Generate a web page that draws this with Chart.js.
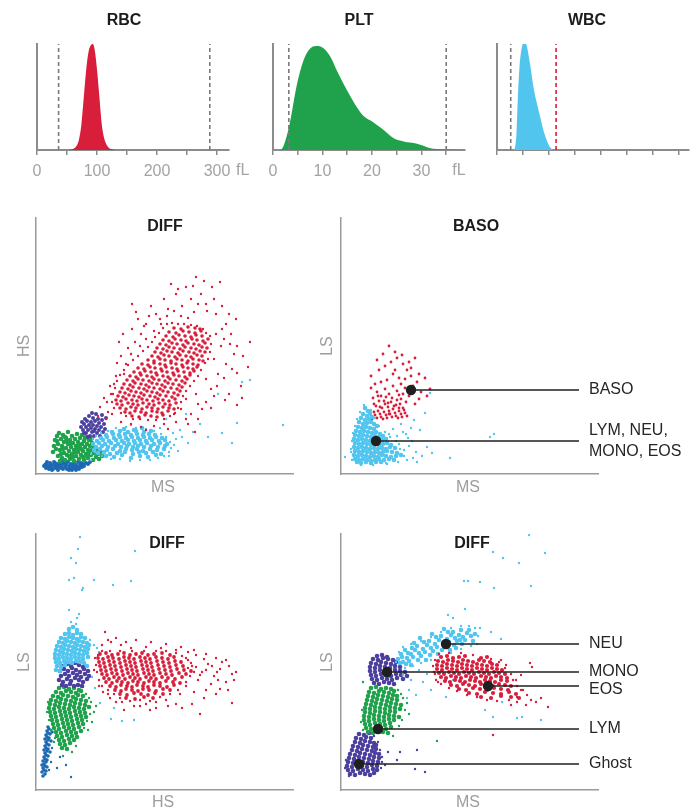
<!DOCTYPE html>
<html>
<head>
<meta charset="utf-8">
<script src="https://cdn.jsdelivr.net/npm/chart.js@4.4.1/dist/chart.umd.min.js"></script>
<style>
  html, body { margin: 0; padding: 0; background: #fff; }
  #wrap { position: relative; width: 700px; height: 809px; }
  #wrap canvas { position: absolute; left: 0; top: 0; }
</style>
</head>
<body>
<div id="wrap"></div>
<script>
// Histograms: size (fL or channel) and relative count
const rbcSize  = [50, 60, 66, 70, 74, 78, 82, 86, 90, 93, 96, 100, 104, 108, 112, 116, 120, 126, 132];
const rbcCount = [0, 0.01, 0.04, 0.1, 0.24, 0.5, 0.76, 0.93, 0.99, 1.0, 0.95, 0.76, 0.5, 0.24, 0.11, 0.05, 0.02, 0.005, 0];
const rbcTicks = [0, 50, 100, 150, 200, 250, 300];
const rbcTickLabels = ['0', '', '100', '', '200', '', '300'];
const rbcGates = [36, 288];

const pltSize  = [0, 1.5, 3.2, 4.8, 5.9, 7.2, 8.7, 10.2, 11.6, 12.9, 14.3, 15.6, 17.0, 18.3, 20.3, 22.3, 24.4, 26.4, 29.1, 30.4, 31.8, 34.5, 38.8];
const pltCount = [0, 0, 0.21, 0.61, 0.81, 0.94, 0.98, 0.96, 0.88, 0.75, 0.62, 0.51, 0.40, 0.32, 0.26, 0.19, 0.11, 0.08, 0.06, 0.04, 0.016, 0.006, 0];
const pltTicks = [0, 5, 10, 15, 20, 25, 30, 35];
const pltTickLabels = ['0', '', '10', '', '20', '', '30', ''];
const pltGates = [3.2, 35];

const wbcSize  = [0, 0.64, 0.75, 0.80, 0.87, 0.96, 1.07, 1.16, 1.29, 1.41, 1.54, 1.67, 1.80, 1.93, 2.06, 2.19, 7.41];
const wbcCount = [0, 0, 0.15, 0.47, 0.79, 0.97, 1.03, 0.97, 0.79, 0.59, 0.44, 0.31, 0.18, 0.086, 0.023, 0, 0];
const wbcTicks = [0, 1, 2, 3, 4, 5, 6, 7];
const wbcGates = [0.53, 2.28];

// Scattergram 1: DIFF (MS vs HS), flat x,y channel pairs; "core" = dense body, "spread" = loose events
const d1Ghost = [8,8, 10,6, 10,10, 12,8, 13,5, 14,11, 15,7, 16,9, 17,5, 18,12, 19,8, 20,6, 21,10, 22,4, 23,8, 24,12, 25,6, 26,9, 27,5, 28,11, 29,7, 30,9, 31,5, 32,12, 33,8, 34,6, 35,10, 36,4, 37,8, 38,11, 39,6, 40,9, 41,7, 42,12, 43,5, 44,9, 45,11, 46,7, 47,10, 48,8, 50,11, 52,10, 54,12, 11,12, 19,11, 27,13, 33,4, 40,4, 24,9, 16,4, 9,9, 14,8, 22,7, 30,12, 37,6, 44,7];
const d1Lym = [18,28, 17,22, 19,34, 20,25, 21,38, 22,18, 22,30, 23,41, 24,24, 25,35, 26,16, 26,28, 27,39, 28,21, 28,32, 29,14, 30,26, 30,36, 31,19, 32,30, 32,42, 33,23, 34,15, 34,34, 35,27, 36,38, 36,20, 37,31, 38,13, 38,24, 39,35, 40,28, 40,18, 41,40, 42,22, 42,32, 43,15, 44,26, 44,36, 45,19, 46,30, 46,39, 47,23, 48,14, 48,33, 49,27, 50,20, 50,37, 51,30, 52,16, 52,24, 53,34, 54,28, 55,19, 56,24, 56,31, 57,14, 58,21, 58,27, 60,17, 60,24, 62,20, 63,15, 64,22, 66,18, 24,13, 31,33, 37,17, 43,29, 49,36, 55,35, 21,33, 25,20, 33,18, 39,22, 45,25, 51,18, 27,25, 35,31, 41,26, 47,17, 53,21, 29,37];
const d1Mono = [45,47, 46,52, 47,44, 48,50, 49,55, 50,41, 50,47, 51,53, 52,44, 53,58, 53,49, 54,38, 55,46, 55,52, 56,42, 57,56, 57,49, 58,38, 59,45, 59,53, 60,60, 61,41, 61,48, 62,55, 63,44, 63,51, 64,38, 65,47, 66,54, 67,42, 68,50, 69,45, 70,56, 66,59, 56,61, 52,37, 48,41, 58,43];
const d1NeuCore = [70,18, 78,17, 86,19, 95,16, 104,18, 112,17, 120,19, 62,21, 68,22, 74,20, 81,21, 89,22, 97,20, 103,22, 110,21, 117,22, 125,20, 58,24, 64,25, 71,24, 77,25, 84,23, 90,25, 96,24, 101,25, 107,23, 114,25, 121,24, 128,25, 60,27, 66,28, 72,27, 79,28, 85,27, 91,28, 97,27, 102,28, 108,27, 115,28, 122,27, 129,28, 57,30, 63,31, 69,30, 75,31, 82,30, 88,31, 93,30, 99,31, 105,30, 111,31, 118,30, 124,31, 131,30, 61,33, 67,34, 73,33, 80,34, 86,33, 92,34, 98,33, 104,34, 110,33, 116,34, 123,33, 129,34, 65,36, 71,37, 78,36, 84,37, 90,36, 96,37, 102,36, 108,37, 114,36, 120,37, 126,36, 70,39, 77,40, 83,39, 89,40, 95,39, 101,40, 107,39, 113,40, 119,39, 76,42, 84,43, 92,42, 100,43, 108,42, 115,43, 88,45, 98,44, 106,46];
const d1NeuSpread = [137,41, 144,44, 157,42, 164,50, 172,37, 186,41, 196,31, 201,51, 214,94, 182,80, 247,49, 206,92, 130,55, 150,60, 140,35, 133,18, 55,14,
  55,20, 57,35, 60,38, 65,41, 72,43, 80,46, 90,47, 100,46, 110,45, 118,43, 125,40, 130,37, 134,32, 135,26, 133,22, 128,18, 122,16, 114,14, 104,14, 94,13, 84,15, 75,15, 66,18, 59,22, 138,29, 142,23, 146,37, 152,31, 124,46, 95,49];
const d1EosCore = [96,58, 103,57, 109,59, 115,58, 121,57, 127,59, 89,62, 94,61, 99,63, 105,62, 110,61, 116,63, 121,62, 126,61, 132,63, 84,66, 90,65, 95,67, 100,66, 106,65, 111,67, 116,66, 122,65, 127,67, 133,66, 138,65, 81,70, 86,69, 92,71, 97,70, 102,69, 107,71, 113,70, 118,69, 123,71, 129,70, 134,69, 140,71, 80,74, 85,73, 90,75, 96,74, 101,73, 106,75, 111,74, 117,73, 122,75, 127,74, 133,73, 139,75, 82,78, 87,77, 93,79, 98,78, 103,77, 108,79, 114,78, 119,77, 124,79, 130,78, 136,77, 142,79, 84,82, 89,81, 95,83, 100,82, 105,81, 111,83, 116,82, 121,81, 127,83, 132,82, 138,81, 144,83, 86,86, 92,85, 97,87, 103,86, 108,85, 113,87, 118,86, 124,85, 129,87, 135,86, 141,85, 146,87, 88,90, 94,89, 99,91, 105,90, 110,89, 116,91, 121,90, 126,89, 132,91, 137,90, 143,89, 149,91, 91,94, 97,93, 102,95, 107,94, 113,93, 118,95, 123,94, 129,93, 134,95, 140,94, 146,93, 151,95, 94,98, 100,97, 105,99, 111,98, 116,97, 121,99, 127,98, 132,97, 138,99, 143,98, 149,97, 154,99, 98,102, 104,101, 109,103, 115,102, 120,101, 126,103, 131,102, 137,101, 142,103, 148,102, 154,101, 158,103, 102,106, 108,105, 114,107, 119,106, 125,105, 130,107, 136,106, 141,105, 147,107, 152,106, 157,105, 161,107, 106,110, 112,109, 118,111, 124,110, 129,109, 135,111, 140,110, 146,109, 151,111, 157,110, 162,109, 112,114, 118,113, 124,115, 129,114, 135,113, 141,115, 146,114, 152,113, 157,115, 163,114, 167,113, 116,118, 122,117, 128,119, 133,118, 139,117, 144,119, 150,118, 155,117, 161,119, 166,118, 119,122, 125,121, 131,123, 136,122, 142,121, 147,123, 153,122, 158,121, 164,123, 169,122, 121,126, 127,125, 133,127, 138,126, 144,125, 149,127, 155,126, 160,125, 166,127, 171,126, 124,130, 130,129, 136,131, 141,130, 147,129, 152,131, 158,130, 163,129, 169,131, 127,134, 133,133, 139,135, 145,134, 150,133, 156,135, 161,134, 167,133, 172,135, 130,138, 137,137, 143,139, 149,138, 155,137, 160,139, 166,138, 133,142, 140,141, 147,143, 153,142, 159,141, 165,143, 138,146, 145,145, 152,147, 159,146, 164,145];
const d1EosSpread = [160,197, 184,192, 150,187, 176,187, 96,170, 214,132, 212,107, 201,101, 83,132, 81,111, 64,67, 71,72, 201,69, 189,74, 166,65, 159,42, 120,160, 132,165, 145,158, 158,162, 170,170, 180,160, 190,150, 195,140, 185,128, 178,115, 190,110, 182,100, 170,95, 175,85, 160,80, 150,75, 145,65, 155,60, 110,150, 105,140, 95,120, 90,110, 88,100, 78,90, 75,80, 72,62, 140,180, 128,175, 115,168, 155,175, 165,180, 198,120, 205,88, 188,135, 150,55, 138,60, 102,155, 125,150, 135,190,
  78,66, 76,72, 77,80, 79,86, 81,93, 84,99, 88,104, 92,109, 97,114, 102,118, 107,123, 112,127, 116,132, 119,137, 123,141, 127,146, 131,150, 136,151, 142,150, 148,150, 155,149, 161,148, 167,145, 170,141, 174,138, 175,130, 174,122, 172,115, 169,111, 165,104, 162,98, 158,93, 154,88, 150,83, 147,78, 145,72, 142,66, 139,61, 134,58, 128,55, 120,54, 112,54, 104,55, 97,55, 90,58, 85,61,
  85,118, 92,126, 99,132, 104,128, 96,145, 108,148, 113,158, 118,143, 87,140, 100,162, 110,135, 124,155, 131,158, 138,163, 146,168, 152,156, 162,170, 171,163, 178,175, 186,168, 193,160, 200,155, 142,185, 157,188, 168,193, 180,140, 186,145, 194,130, 201,128, 207,118, 196,105, 188,96, 181,88, 193,80, 206,76, 178,78, 170,72, 162,70, 175,66, 95,50, 105,47, 118,48, 128,50, 140,52, 152,50, 162,55, 85,52, 110,44, 132,45, 62,58, 68,76, 74,88, 80,98, 70,55, 76,60];

// Scattergram 2: BASO (MS vs LS)
const bNeuCore = [24,66, 27,63, 22,60, 26,58, 29,61, 20,56, 24,54, 28,55, 31,57, 18,52, 22,50, 26,51, 30,52, 33,50, 17,47, 21,46, 25,47, 29,46, 33,45, 36,48, 15,43, 19,42, 23,43, 27,42, 31,41, 35,42, 39,40, 14,39, 18,38, 22,39, 26,38, 30,37, 34,38, 38,37, 42,38, 13,35, 17,34, 21,35, 25,34, 29,33, 33,34, 37,33, 41,34, 45,35, 14,31, 18,30, 22,31, 26,30, 30,29, 34,30, 38,29, 42,30, 46,31, 50,29, 13,27, 17,26, 21,27, 25,26, 29,25, 33,26, 37,25, 41,26, 45,25, 49,27, 54,26, 14,23, 18,22, 22,23, 26,22, 30,21, 34,22, 38,21, 42,22, 46,23, 51,22, 56,21, 13,19, 17,18, 21,19, 25,18, 29,17, 33,18, 37,17, 41,19, 45,18, 50,17, 55,18, 60,19, 14,15, 18,14, 22,15, 26,14, 30,13, 34,14, 38,15, 43,14, 48,15, 53,14, 16,12, 20,11, 25,12, 30,11, 35,12, 40,12];
const bNeuSpread = [58,30, 63,24, 67,36, 72,16, 62,42, 70,46, 56,38, 66,14, 75,22, 4,17, 109,16, 153,40, 149,37, 86,27, 91,21, 79,44, 73,54, 89,81, 84,61, 10,22, 60,50, 52,45, 48,40,
  11,14, 10,25, 11,33, 12,41, 14,48, 16,55, 19,62, 23,69, 30,64, 34,56, 38,48, 44,42, 49,37, 55,33, 59,25, 63,18, 57,12, 46,10, 32,9, 20,9, 68,28, 71,33, 65,40, 76,12, 81,18, 45,11];
const bBaso = [30,58, 33,62, 36,56, 39,60, 42,55, 45,59, 48,63, 51,57, 54,61, 57,56, 60,60, 63,64, 41,66, 44,70, 47,67, 50,72, 53,68, 56,74, 59,70, 62,66, 35,68, 38,73, 65,72, 68,78, 32,76, 36,82, 40,78, 44,85, 48,80, 52,88, 56,83, 60,90, 64,86, 72,88, 76,92, 80,82, 86,78, 84,96, 78,100, 70,98, 66,104, 58,96, 52,100, 46,94, 40,92, 34,90, 30,98, 38,104, 44,108, 50,112, 56,116, 62,110, 68,112, 74,116, 36,114, 42,120, 48,128, 54,122, 61,119, 70,106, 89,85, 78,75, 74,70, 58,79, 45,77, 30,86, 64,95, 54,104, 48,60, 58,66, 66,58,
  31,55, 34,59, 37,63, 40,57, 43,62, 46,56, 49,60, 52,65, 55,58, 58,63, 61,57, 64,61, 43,73, 39,67, 47,71, 51,76, 55,69, 60,75, 37,78, 33,70, 62,80];
const basoMarkLabels = ['BASO', 'LYM, NEU,\nMONO, EOS'];
const basoMarkX = [70, 35];
const basoMarkY = [84, 33];

// Scattergram 3: DIFF (HS vs LS)
const d3GhostCore = [7,14, 9,16, 6,18, 8,20, 10,19, 7,22, 9,24, 11,23, 8,26, 10,28, 7,29, 9,31, 11,30, 8,33, 10,35, 12,34, 9,37, 11,39, 8,40, 10,42, 12,41, 9,44, 11,46, 13,45, 10,48, 12,50, 9,51, 11,53, 13,52, 10,55, 12,57, 14,56, 11,59, 13,61, 12,63, 15,49, 14,38, 6,25, 16,58];
const d3GhostSpread = [21,22, 24,33, 30,25, 35,13, 15,28, 13,20, 16,42];
const d3LymCore = [23,102, 28,103, 33,101, 38,102, 43,100, 20,98, 25,97, 30,99, 35,98, 40,97, 45,99, 17,94, 22,93, 27,95, 32,94, 37,93, 42,95, 47,94, 15,90, 20,89, 25,91, 30,90, 35,89, 40,91, 45,90, 50,89, 14,86, 19,85, 24,87, 29,86, 34,85, 39,87, 44,86, 49,85, 13,82, 18,81, 23,83, 28,82, 33,81, 38,83, 43,82, 48,81, 53,83, 14,78, 19,77, 24,79, 29,78, 34,77, 39,79, 44,78, 49,77, 15,74, 20,73, 25,75, 30,74, 35,73, 40,75, 45,74, 50,73, 16,70, 21,69, 26,71, 31,70, 36,69, 41,71, 46,70, 17,66, 22,65, 27,67, 32,66, 37,65, 42,67, 47,66, 18,62, 23,61, 28,63, 33,62, 38,61, 43,63, 20,58, 25,57, 30,59, 35,58, 40,57, 45,59, 21,54, 26,53, 31,55, 36,54, 41,53, 23,50, 28,49, 33,51, 38,50, 24,46, 29,45, 34,47, 26,42, 31,41];
const d3LymSpread = [55,88, 58,78, 60,84, 56,68, 52,60, 18,48, 36,38, 40,44, 27,34, 12,88, 11,78, 13,70, 15,60, 19,52, 48,62, 51,69, 54,76, 53,92, 50,96, 47,103];
const d3Mono = [23,110, 27,108, 31,111, 35,109, 39,112, 43,110, 47,108, 51,111, 25,114, 29,116, 33,114, 37,117, 41,115, 45,113, 49,116, 53,114, 24,119, 28,121, 32,119, 36,122, 40,120, 44,118, 48,121, 52,119, 27,124, 31,126, 35,124, 39,127, 43,125, 47,123, 30,104, 34,106, 38,104, 42,105, 46,104, 26,105];
const d3NeuCore = [33,161, 37,163, 41,160, 29,156, 33,157, 37,155, 41,157, 45,156, 25,152, 29,151, 33,153, 37,152, 41,151, 45,153, 49,152, 23,148, 27,147, 31,149, 35,148, 39,147, 43,149, 47,148, 51,147, 21,144, 25,143, 29,145, 33,144, 37,143, 41,145, 45,144, 49,143, 53,145, 20,140, 24,139, 28,141, 32,140, 36,139, 40,141, 44,140, 48,139, 52,141, 19,136, 23,135, 27,137, 31,136, 35,135, 39,137, 43,136, 47,135, 51,137, 19,132, 23,131, 27,133, 31,132, 35,131, 39,133, 43,132, 47,131, 52,133, 20,128, 24,127, 28,129, 32,128, 36,127, 40,129, 44,128, 48,127, 21,124, 25,123, 29,125, 51,124, 20,120, 24,119];
const d3NeuSpread = [52,257, 44,253, 42,241, 35,232, 40,227, 99,239, 33,210, 38,212, 58,210, 77,205, 95,209, 47,202, 46,200, 33,180, 43,176, 41,172, 64,87, 78,82, 75,71, 86,69, 98,70, 59,102, 56,113, 61,142, 54,150, 58,145, 63,138, 40,166, 35,168];
const d3EosCore = [64,136, 70,137, 76,135, 82,136, 88,137, 94,135, 100,136, 106,137, 112,135, 118,136, 126,137, 134,135, 62,132, 67,131, 72,133, 77,132, 83,131, 88,133, 93,132, 98,131, 104,133, 109,132, 114,131, 120,133, 126,132, 132,131, 138,133, 63,128, 68,127, 73,129, 78,128, 84,127, 89,129, 94,128, 99,127, 105,129, 110,128, 115,127, 121,129, 127,128, 133,127, 139,129, 145,128, 64,124, 69,123, 74,125, 79,124, 85,123, 90,125, 95,124, 100,123, 106,125, 111,124, 116,123, 122,125, 128,124, 134,123, 140,125, 147,124, 65,120, 70,119, 75,121, 80,120, 86,119, 91,121, 96,120, 101,119, 107,121, 112,120, 117,119, 123,121, 129,120, 135,119, 141,121, 148,120, 155,119, 66,116, 71,115, 76,117, 81,116, 87,115, 92,117, 97,116, 102,115, 108,117, 113,116, 118,115, 124,117, 130,116, 136,115, 143,117, 150,116, 68,112, 73,111, 78,113, 83,112, 89,111, 94,113, 99,112, 104,111, 110,113, 115,112, 120,111, 126,113, 132,112, 139,111, 146,113, 70,108, 76,107, 81,109, 86,108, 92,107, 97,109, 102,108, 108,107, 113,109, 118,108, 124,107, 130,109, 137,108, 144,107, 74,104, 80,103, 85,105, 91,104, 96,103, 101,105, 107,104, 112,103, 118,105, 124,104, 131,103, 138,105, 79,100, 85,99, 90,101, 96,100, 102,99, 107,101, 113,100, 120,99, 127,101, 134,100, 84,96, 91,95, 98,97, 105,96, 112,95, 119,97, 127,96, 90,92, 99,91, 108,93, 117,92];
const d3EosSpread = [160,123, 166,118, 172,126, 178,114, 184,121, 190,108, 196,116, 198,110, 186,128, 175,106, 162,110, 155,127, 168,131, 181,118, 193,124, 150,104, 158,98, 144,96, 170,100, 184,101, 196,87, 164,76, 69,158, 75,148, 85,145, 95,142, 110,143, 125,142, 140,140, 152,138, 120,88, 130,90, 140,86, 104,84, 114,80, 86,88, 150,132, 160,135, 72,96,
  60,125, 61,118, 63,110, 66,104, 72,100, 78,96, 84,92, 94,89, 104,90, 114,89, 124,93, 134,96, 142,100, 150,108, 154,114, 156,124, 152,130, 146,134, 140,137, 130,139, 120,139, 108,139, 96,139, 84,139, 74,139, 66,139, 62,135,
  66,145, 72,150, 80,152, 90,148, 100,150, 115,148, 130,146, 145,143, 158,140, 170,136, 180,132, 190,130, 200,118, 192,100, 180,96, 168,92, 156,86, 146,82, 132,84, 120,82, 110,86, 98,84, 88,80, 80,88, 74,92, 67,98, 63,104, 58,120, 59,132, 164,115, 170,120, 176,124, 182,110, 158,118, 152,122];

// Scattergram 4: DIFF (MS vs LS)
const d4GhostCore = [18,56, 23,55, 28,57, 15,52, 20,51, 25,53, 30,52, 14,48, 19,47, 24,49, 29,48, 33,47, 12,44, 17,43, 22,45, 27,44, 32,43, 35,45, 11,40, 16,39, 21,41, 26,40, 31,39, 35,41, 9,36, 14,35, 19,37, 24,36, 29,35, 34,37, 38,36, 8,32, 13,31, 18,33, 23,32, 28,31, 33,33, 38,32, 7,28, 12,27, 17,29, 22,28, 27,27, 32,29, 37,28, 6,24, 11,23, 16,25, 21,24, 26,23, 31,25, 36,24, 7,20, 12,19, 17,21, 22,20, 27,19, 32,21, 36,20, 9,16, 14,15, 19,17, 24,16, 29,15, 33,17];
const d4GhostSpread = [41,33, 56,30, 59,38, 76,40, 74,21, 84,18, 47,38, 44,25, 5,30, 4,22, 8,14, 40,22, 41,28, 39,40, 37,48, 33,54];
const d4LymCore = [30,102, 35,103, 40,101, 45,102, 50,101, 28,98, 33,97, 38,99, 43,98, 48,97, 53,99, 27,94, 32,93, 37,95, 42,94, 47,93, 52,95, 56,94, 26,90, 31,89, 36,91, 41,90, 46,89, 51,91, 56,90, 25,86, 30,85, 35,87, 40,86, 45,85, 50,87, 55,86, 60,85, 24,82, 29,81, 34,83, 39,82, 44,81, 49,83, 54,82, 59,81, 24,78, 29,77, 34,79, 39,78, 44,77, 49,79, 54,78, 23,74, 28,73, 33,75, 38,74, 43,73, 48,75, 53,74, 58,73, 23,70, 28,69, 33,71, 38,70, 43,69, 48,71, 53,70, 24,66, 29,65, 34,67, 39,66, 44,65, 49,67, 25,62, 30,61, 35,63, 40,62, 45,61, 50,63, 27,58, 32,57, 37,59, 42,58, 47,57];
const d4LymSpread = [96,49, 66,87, 61,70, 22,108, 64,80, 62,92, 58,64, 52,54, 68,76, 21,80, 20,68, 22,60, 57,100, 60,96];
const d4Mono = [36,134, 41,135, 46,133, 32,131, 37,130, 42,132, 47,131, 52,130, 30,127, 35,126, 40,128, 45,127, 50,126, 55,128, 29,123, 34,122, 39,124, 44,123, 49,122, 54,124, 59,123, 29,119, 34,118, 39,120, 44,119, 49,118, 54,120, 59,119, 64,118, 30,115, 35,114, 40,116, 45,115, 50,114, 55,116, 60,115, 66,114, 31,111, 36,110, 41,112, 46,111, 51,110, 56,112, 62,111, 33,107, 38,106, 43,108, 48,107, 53,106];
const d4NeuCore = [57,131, 62,128, 60,136, 66,132, 64,140, 70,136, 68,129, 74,140, 72,133, 78,137, 76,144, 82,141, 80,134, 86,145, 84,138, 90,142, 88,149, 94,146, 92,139, 98,150, 96,143, 102,147, 100,154, 106,151, 104,144, 110,155, 108,148, 114,152, 112,158, 118,155, 116,149, 122,153, 120,160, 126,157, 124,150, 130,154, 128,160, 132,149, 134,156, 65,126, 71,142, 77,130, 83,148, 89,135, 95,153, 101,140, 107,158, 113,145, 119,150, 73,147, 79,152, 85,130, 91,156, 97,136, 103,161, 109,140, 115,142, 121,146, 61,133, 67,137, 59,127, 70,125];
const d4NeuSpread = [62,115, 70,110, 68,100, 75,95, 82,108, 90,100, 98,118, 105,93, 112,110, 66,92, 78,120, 86,116, 188,255, 162,232, 152,238, 204,237, 178,227, 123,209, 127,209, 139,208, 153,202, 190,204, 124,181, 107,175, 112,172, 139,162, 160,151, 150,158, 161,88, 176,72, 200,70, 144,80, 152,73, 181,73,
  55,128, 58,138, 62,143, 70,146, 80,149, 90,153, 100,158, 110,162, 120,164, 128,164, 134,162, 137,154, 136,146, 130,144, 120,141, 110,137, 100,133, 90,130, 80,127, 72,124, 64,122];
const d4EosCore = [100,133, 106,134, 112,132, 118,133, 124,134, 140,132, 146,133, 97,129, 102,128, 107,130, 112,129, 117,128, 122,130, 127,129, 132,128, 138,130, 143,129, 149,128, 96,125, 101,124, 106,126, 111,125, 116,124, 121,126, 126,125, 131,124, 136,126, 141,125, 146,124, 151,126, 156,125, 96,121, 101,120, 106,122, 111,121, 116,120, 121,122, 126,121, 131,120, 136,122, 141,121, 146,120, 151,122, 156,121, 161,120, 98,117, 103,116, 108,118, 113,117, 118,116, 123,118, 128,117, 133,116, 138,118, 143,117, 148,116, 153,118, 158,117, 164,116, 100,113, 105,112, 110,114, 115,113, 120,112, 125,114, 130,113, 135,112, 140,114, 145,113, 150,112, 155,114, 160,113, 166,112, 104,109, 109,108, 114,110, 119,109, 124,108, 129,110, 134,109, 139,108, 144,110, 149,109, 154,108, 160,110, 166,109, 110,105, 116,104, 122,106, 128,105, 134,104, 140,106, 146,105, 152,104, 158,106, 164,105, 170,104, 118,101, 125,100, 132,102, 139,101, 146,100, 153,102, 160,101, 167,100, 128,97, 136,96, 144,98, 152,97, 160,96, 168,98, 175,96, 140,93, 150,92, 160,94, 170,93, 178,92];
const d4EosSpread = [182,100, 186,95, 190,90, 195,88, 200,92, 207,83, 185,85, 176,88, 170,85, 189,127, 191,123, 175,110, 180,115, 152,55, 94,116, 97,108, 92,124, 165,125, 160,130,
  94,130, 98,136, 108,137, 120,137, 132,135, 150,131, 158,128, 164,122, 170,116, 172,110, 176,104, 180,100, 176,93, 168,90, 156,89, 146,90, 136,93, 126,95, 116,99, 108,102, 100,106, 95,110, 93,118];
const diffMarkLabels = ['NEU', 'MONO', 'EOS', 'LYM', 'Ghost'];
const diffMarkX = [105, 46, 147, 37, 18];
const diffMarkY = [146, 118, 104, 61, 26];
const calloutEnd = 238;

// ---- styling ----
const RED = '#d81e3b', GREEN = '#1fa24b', PURPLE = '#4b3f9f', CYAN = '#52c5ef', BLUE = '#1d68b2';
const AXIS = '#8c8c8c', LABEL = '#a3a3a3';
const PAGE_W = 700, PAGE_H = 809;
const HIST_LABEL_BAND = 40;
const wrap = document.getElementById('wrap');

function newCanvas() {
    const c = document.createElement('canvas');
    c.width = PAGE_W; c.height = PAGE_H;
    c.style.width = PAGE_W + 'px'; c.style.height = PAGE_H + 'px';
    wrap.appendChild(c);
    return c;
}

function padFor(box, bottomBand) {
    return { left: box.left, top: box.top, right: PAGE_W - box.right, bottom: PAGE_H - box.bottom - (bottomBand || 0) };
}

// fixed axis sizes so the chart area lands exactly on the box
function fixedSize(size) {
    return function (scale) {
        if (scale.isHorizontal()) scale.height = size; else scale.width = size;
    };
}

function pairs(arr) {
    const out = [];
    for (let i = 0; i < arr.length; i += 2) out.push({ x: arr[i], y: arr[i + 1] });
    return out;
}

function zip(xs, ys) {
    return xs.map((x, i) => ({ x: x, y: ys[i] }));
}

// free text in page coordinates
function textLayer(items) {
    return {
        id: 'textLayer',
        afterDraw(chart) {
            const ctx = chart.ctx;
            items.forEach(it => {
                ctx.save();
                ctx.font = it.font;
                ctx.fillStyle = it.color;
                ctx.textAlign = it.align || 'center';
                ctx.textBaseline = 'middle';
                ctx.translate(it.x, it.y);
                if (it.rotate) ctx.rotate(it.rotate);
                ctx.fillText(it.text, 0, 0);
                ctx.restore();
            });
        }
    };
}

// callout labels at the end of the marker lines
function calloutLayer(labels, ys, dys) {
    return {
        id: 'callouts',
        afterDraw(chart) {
            const ctx = chart.ctx;
            const x = chart.scales.x.getPixelForValue(calloutEnd) + 10;
            ctx.save();
            ctx.font = '16px "Liberation Sans", Arial, sans-serif';
            ctx.fillStyle = '#262626';
            ctx.textAlign = 'left';
            ctx.textBaseline = 'middle';
            labels.forEach((lab, i) => {
                const y = chart.scales.y.getPixelForValue(ys[i]) + (dys[i] || 0);
                const lines = lab.split('\n');
                lines.forEach((t, j) => ctx.fillText(t, x, y + (j - (lines.length - 1) / 2) * 21.5));
            });
            ctx.restore();
        }
    };
}

const TITLE_FONT = 'bold 16px "Liberation Sans", Arial, sans-serif';
const AXIS_FONT = '16px "Liberation Sans", Arial, sans-serif';

function histogram(box, sizes, counts, color, xMax, ticks, tickLabels, gates, gateColors, extraText) {
    const datasets = gates.map((g, i) => ({
        data: [{ x: g, y: 0 }, { x: g, y: 1 }],
        borderColor: gateColors[i],
        borderWidth: 1.6,
        borderDash: [4, 3],
        pointRadius: 0,
        fill: false,
        order: 0
    }));
    datasets.push({
        data: zip(sizes, counts),
        backgroundColor: color,
        borderWidth: 0,
        pointRadius: 0,
        fill: 'origin',
        cubicInterpolationMode: 'monotone',
        clip: false,
        order: 1
    });
    new Chart(newCanvas(), {
        type: 'line',
        data: { datasets: datasets },
        options: {
            responsive: false,
            animation: false,
            events: [],
            layout: { padding: padFor(box, HIST_LABEL_BAND) },
            plugins: { legend: { display: false }, tooltip: { enabled: false } },
            scales: {
                x: {
                    type: 'linear', min: 0, max: xMax,
                    afterFit: fixedSize(HIST_LABEL_BAND),
                    afterBuildTicks: s => { s.ticks = ticks.map(v => ({ value: v })); },
                    grid: { display: true, drawOnChartArea: false, drawTicks: true, tickLength: 5, color: AXIS, lineWidth: 1.5 },
                    border: { color: AXIS, width: 2 },
                    ticks: {
                        display: true, autoSkip: false, maxRotation: 0, padding: 7,
                        color: LABEL, font: { family: '"Liberation Sans", Arial, sans-serif', size: 16 },
                        callback: (v, i) => tickLabels ? tickLabels[i] : ''
                    }
                },
                y: {
                    type: 'linear', min: 0, max: 1,
                    afterFit: fixedSize(0),
                    grid: { display: false, drawTicks: false },
                    border: { color: AXIS, width: 2 },
                    ticks: { display: false }
                }
            }
        },
        plugins: [textLayer(extraText)]
    });
}

function scattergram(box, clusters, marks, texts) {
    const datasets = clusters.map(c => ({
        type: 'scatter',
        data: pairs(c.pts),
        backgroundColor: c.color,
        pointRadius: c.r,
        pointBorderWidth: 0,
        borderWidth: 0,
        order: 2
    }));
    if (marks) {
        marks.xs.forEach((mx, i) => datasets.push({
            type: 'line',
            data: [{ x: mx, y: marks.ys[i] }, { x: calloutEnd, y: marks.ys[i] }],
            borderColor: '#1f1f1f',
            borderWidth: 1.6,
            pointRadius: [5.2, 0],
            pointBackgroundColor: '#1f1f1f',
            pointBorderWidth: 0,
            fill: false,
            order: 0
        }));
    }
    const plugins = [textLayer(texts)];
    if (marks) plugins.push(calloutLayer(marks.labels, marks.ys, marks.dys));
    new Chart(newCanvas(), {
        type: 'scatter',
        data: { datasets: datasets },
        options: {
            responsive: false,
            animation: false,
            events: [],
            layout: { padding: padFor(box, 0) },
            plugins: { legend: { display: false }, tooltip: { enabled: false } },
            scales: {
                x: {
                    type: 'linear', min: 0, max: 257,
                    afterFit: fixedSize(0),
                    grid: { display: false, drawTicks: false },
                    border: { color: '#9a9a9a', width: 1.5 },
                    ticks: { display: false }
                },
                y: {
                    type: 'linear', min: 0, max: 256,
                    afterFit: fixedSize(0),
                    grid: { display: false, drawTicks: false },
                    border: { color: '#9a9a9a', width: 1.5 },
                    ticks: { display: false }
                }
            }
        },
        plugins: plugins
    });
}

function title(text, x, y) {
    return { text: text, x: x, y: y, font: TITLE_FONT, color: '#1c1c1c' };
}
function axisText(text, x, y, vertical) {
    return { text: text, x: x, y: y, font: AXIS_FONT, color: '#9d9d9d', rotate: vertical ? -Math.PI / 2 : 0 };
}

const CORE = 2.3, FRINGE = 1.2;

// ---- top row: size histograms ----
histogram({ left: 37, top: 44, right: 229, bottom: 150 }, rbcSize, rbcCount, RED, 320,
    rbcTicks, rbcTickLabels, rbcGates, ['#7a7a7a', '#7a7a7a'],
    [title('RBC', 124, 21), { text: 'fL', x: 236, y: 171, font: AXIS_FONT, color: LABEL, align: 'left' }]);

histogram({ left: 273, top: 44, right: 465, bottom: 150 }, pltSize, pltCount, GREEN, 38.8,
    pltTicks, pltTickLabels, pltGates, ['#7a7a7a', '#7a7a7a'],
    [title('PLT', 359, 21), { text: 'fL', x: 459, y: 171, font: AXIS_FONT, color: LABEL }]);

histogram({ left: 497, top: 44, right: 689, bottom: 150 }, wbcSize, wbcCount, CYAN, 7.41,
    wbcTicks, null, wbcGates, ['#7a7a7a', RED],
    [title('WBC', 587, 21)]);

// ---- scattergrams ----
scattergram({ left: 36, top: 218, right: 293, bottom: 474 }, [
    { pts: d1EosSpread, color: RED, r: FRINGE },
    { pts: d1EosCore, color: RED, r: 1.8 },
    { pts: d1NeuSpread, color: CYAN, r: FRINGE },
    { pts: d1NeuCore, color: CYAN, r: CORE },
    { pts: d1Mono, color: PURPLE, r: 2.0 },
    { pts: d1Lym, color: GREEN, r: CORE },
    { pts: d1Ghost, color: BLUE, r: 2.0 }
], null, [title('DIFF', 165, 227), axisText('HS', 25, 346, true), axisText('MS', 163, 488)]);

scattergram({ left: 341, top: 218, right: 598, bottom: 474 }, [
    { pts: bNeuSpread, color: CYAN, r: FRINGE },
    { pts: bNeuCore, color: CYAN, r: CORE },
    { pts: bBaso, color: RED, r: 1.4 }
], { xs: basoMarkX, ys: basoMarkY, labels: basoMarkLabels, dys: [0, 0] },
[title('BASO', 476, 227), axisText('LS', 328, 346, true), axisText('MS', 468, 488)]);

scattergram({ left: 36, top: 534, right: 293, bottom: 790 }, [
    { pts: d3EosSpread, color: RED, r: FRINGE },
    { pts: d3EosCore, color: RED, r: 1.9 },
    { pts: d3NeuSpread, color: CYAN, r: FRINGE },
    { pts: d3NeuCore, color: CYAN, r: CORE },
    { pts: d3Mono, color: PURPLE, r: CORE },
    { pts: d3LymSpread, color: GREEN, r: FRINGE },
    { pts: d3LymCore, color: GREEN, r: CORE },
    { pts: d3GhostSpread, color: BLUE, r: FRINGE },
    { pts: d3GhostCore, color: BLUE, r: 1.8 }
], null, [title('DIFF', 167, 544), axisText('LS', 25, 662, true), axisText('HS', 163, 803)]);

scattergram({ left: 341, top: 534, right: 598, bottom: 790 }, [
    { pts: d4EosSpread, color: RED, r: FRINGE },
    { pts: d4EosCore, color: RED, r: 2.1 },
    { pts: d4NeuSpread, color: CYAN, r: FRINGE },
    { pts: d4NeuCore, color: CYAN, r: CORE },
    { pts: d4Mono, color: PURPLE, r: CORE },
    { pts: d4LymSpread, color: GREEN, r: FRINGE },
    { pts: d4LymCore, color: GREEN, r: CORE },
    { pts: d4GhostSpread, color: PURPLE, r: FRINGE },
    { pts: d4GhostCore, color: PURPLE, r: CORE }
], { xs: diffMarkX, ys: diffMarkY, labels: diffMarkLabels, dys: [0, 0, 4, 0, 0] },
[title('DIFF', 472, 544), axisText('LS', 328, 662, true), axisText('MS', 468, 803)]);
</script>
</body>
</html>
